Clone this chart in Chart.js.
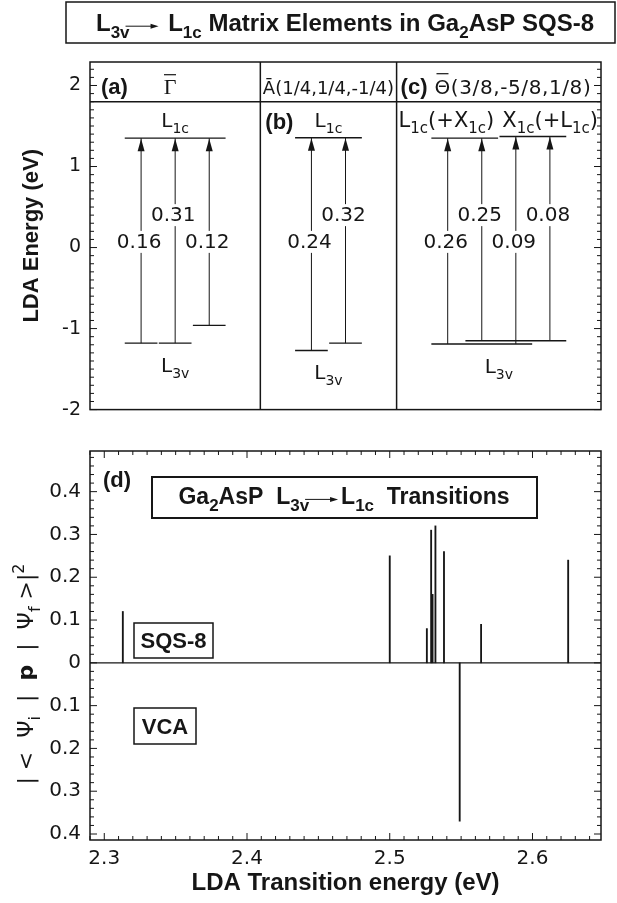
<!DOCTYPE html>
<html>
<head>
<meta charset="utf-8">
<script src="https://cdn.jsdelivr.net/npm/chart.js@4.4.1/dist/chart.umd.min.js"></script>
<style>
  html, body { margin: 0; padding: 0; background: #fff; width: 617px; height: 903px; overflow: hidden; }
  canvas { position: absolute; left: 0; }
  #top { top: 0; }
  #bot { top: 430px; }
</style>
</head>
<body>
<canvas id="top" width="617" height="430"></canvas>
<canvas id="bot" width="617" height="473"></canvas>
<script>
// panels (a) Gamma, (b) A, (c) Theta -- one entry per L3v -> L1c transition
const l1cLevels = [[1.35], [1.355], [1.35, 1.37]];
const l3vLevels = [[-1.18, -1.18, -0.96], [-1.27, -1.18], [-1.19, -1.15]];
const l1cOf = [[0, 0, 0], [0, 0], [0, 0, 1, 1]];
const l3vOf = [[0, 1, 2], [0, 1], [0, 1, 0, 1]];
const matrixElems = [[0.16, 0.31, 0.12], [0.24, 0.32], [0.26, 0.25, 0.09, 0.08]];

// panel (d) transition energies (eV) and |<i|p|f>|^2
const sqsEnergy = [2.313, 2.500, 2.526, 2.529, 2.530, 2.532, 2.538, 2.564, 2.625];
const sqsWeight = [0.12, 0.25, 0.08, 0.31, 0.16, 0.32, 0.26, 0.09, 0.24];
const vcaEnergy = [2.549];
const vcaWeight = [0.37];

const INK = '#161616';
const REG = '"DejaVu Sans"';
const BOLD = '"Liberation Sans"';

// each panel is (transitions + 2) slots wide, arrows sit in the middle slots
const panelStart = [];
let nSlots = 0;
matrixElems.forEach(m => { panelStart.push(nSlots); nSlots += m.length + 2; });
const slotOf = (p, k) => panelStart[p] + 1.5 + k;

function levelSpans(levels, of) {
  const out = [];
  levels.forEach((lv, p) => lv.forEach((E, j) => {
    const ks = of[p].map((v, k) => v === j ? k : -1).filter(k => k >= 0);
    out.push({ p, E, x0: slotOf(p, Math.min(...ks)) - 0.48, x1: slotOf(p, Math.max(...ks)) + 0.48 });
  }));
  return out;
}
const l1cSpans = levelSpans(l1cLevels, l1cOf);
const l3vSpans = levelSpans(l3vLevels, l3vOf);

const levelData = [];
[...l1cSpans, ...l3vSpans].forEach(s => {
  levelData.push({ x: s.x0, y: s.E }, { x: s.x1, y: s.E }, { x: s.x1, y: null });
});
const shaftData = [];
matrixElems.forEach((m, p) => m.forEach((v, k) => {
  const s = slotOf(p, k);
  shaftData.push({ x: s, y: l3vLevels[p][l3vOf[p][k]] }, { x: s, y: l1cLevels[p][l1cOf[p][k]] }, { x: s, y: null });
}));

// ---------- drawing helpers ----------
function line(ctx, x0, y0, x1, y1) {
  ctx.beginPath(); ctx.moveTo(x0, y0); ctx.lineTo(x1, y1); ctx.stroke();
}

// text with subscripts ({s}), superscripts ({u}), bold parts ({b}) and arrows ({arrow})
function rich(ctx, segs, x, y, size, fam, weight, align) {
  const sub = Math.round(size * 0.72);
  const items = segs.map(s => {
    let it;
    if (typeof s === 'string') it = { t: s, f: `${weight} ${size}px ${fam}`, dy: 0 };
    else if (s.s) it = { t: s.s, f: `${weight} ${sub}px ${fam}`, dy: size * 0.3 };
    else if (s.u) it = { t: s.u, f: `${weight} ${sub}px ${fam}`, dy: -size * 0.42 };
    else if (s.b) it = { t: s.b, f: `bold ${size}px ${fam}`, dy: 0 };
    else it = { arrow: s.arrow, w: s.arrow };
    if (it.t) { ctx.font = it.f; it.w = ctx.measureText(it.t).width; }
    return it;
  });
  const total = items.reduce((a, it) => a + it.w, 0);
  let cx = align === 'center' ? x - total / 2 : align === 'right' ? x - total : x;
  ctx.textAlign = 'left';
  ctx.textBaseline = 'alphabetic';
  items.forEach(it => {
    if (it.arrow) {
      const ay = y - size * 0.2, x0 = cx - 4, x1 = cx + it.w - 3;
      ctx.lineWidth = 1;
      line(ctx, x0, ay, x1 - 6, ay);
      ctx.beginPath(); ctx.moveTo(x1, ay); ctx.lineTo(x1 - 8, ay - 2.5); ctx.lineTo(x1 - 8, ay + 2.5); ctx.closePath(); ctx.fill();
    } else {
      ctx.font = it.f;
      ctx.fillText(it.t, cx, y + it.dy);
    }
    cx += it.w;
  });
  return total;
}

function tickMarks(ctx, scale, a, step, every, vertical) {
  const lo = Math.ceil(scale.min / step - 1e-6), hi = Math.floor(scale.max / step + 1e-6);
  ctx.lineWidth = 1;
  for (let i = lo; i <= hi; i++) {
    const L = i % every === 0 ? 7 : 4;
    const p = scale.getPixelForValue(i * step);
    if (vertical) { line(ctx, a.left, p, a.left + L, p); line(ctx, a.right, p, a.right - L, p); }
    else { line(ctx, p, a.bottom, p, a.bottom - L); line(ctx, p, a.top, p, a.top + L); }
  }
}

function textBox(ctx, x0, y0, x1, y1, lw) {
  ctx.lineWidth = lw;
  ctx.strokeRect(x0, y0, x1 - x0, y1 - y0);
}

// ---------- top: level diagrams ----------
const headerBottom = 1.8;   // eV, lower edge of the k-point header row
const labelLow = 0.07, labelHigh = 0.40;

const topDecor = {
  id: 'topDecor',
  afterDatasetsDraw(chart) {
    const { ctx, chartArea: a, scales: { x, y } } = chart;
    ctx.save();
    ctx.fillStyle = INK; ctx.strokeStyle = INK;

    // arrowheads and matrix elements
    matrixElems.forEach((m, p) => m.forEach((v, k) => {
      const px = x.getPixelForValue(slotOf(p, k));
      const tip = y.getPixelForValue(l1cLevels[p][l1cOf[p][k]]);
      ctx.beginPath(); ctx.moveTo(px, tip + 0.5); ctx.lineTo(px - 3.5, tip + 13); ctx.lineTo(px + 3.5, tip + 13); ctx.closePath(); ctx.fill();
      const ly = y.getPixelForValue(k % 2 ? labelHigh : labelLow);
      const t = v.toFixed(2);
      ctx.font = `20px ${REG}`;
      const w = ctx.measureText(t).width;
      ctx.fillStyle = '#fff';
      ctx.fillRect(px - 2 - w / 2 - 2, ly - 11, w + 4, 22);
      ctx.fillStyle = INK;
      ctx.textAlign = 'center'; ctx.textBaseline = 'middle';
      ctx.fillText(t, px - 2, ly + 1);
    }));

    // frame, header row and panel dividers
    ctx.lineWidth = 1.5;
    ctx.strokeRect(a.left, a.top, a.width, a.height);
    const hy = y.getPixelForValue(headerBottom);
    line(ctx, a.left, hy, a.right, hy);
    const div = panelStart.slice(1).map(s => x.getPixelForValue(s));
    div.forEach(d => line(ctx, d, a.top, d, a.bottom));
    tickMarks(ctx, y, a, 0.1, 10, true);

    // header labels
    const hb = hy - 8;
    rich(ctx, ['(a)'], a.left + 11, hb, 22, BOLD, 'bold', 'left');
    ctx.font = `22px "Liberation Serif"`;
    ctx.textAlign = 'center'; ctx.textBaseline = 'alphabetic';
    const gx = a.left + 80;
    ctx.fillText('Γ', gx, hb);
    ctx.lineWidth = 1.2;
    line(ctx, gx - 6, hb - 19, gx + 6, hb - 19);
    rich(ctx, ['Ā(1/4,1/4,-1/4)'], (div[0] + div[1]) / 2, hb, 18, REG, '', 'center');
    const cw = rich(ctx, ['(c)'], div[1] + 4, hb, 22, BOLD, 'bold', 'left');
    const tx = div[1] + 4 + cw + 7;
    ctx.save(); ctx.letterSpacing = '0.6px';
    rich(ctx, ['Θ(3/8,-5/8,1/8)'], tx, hb, 20, REG, '', 'left');
    ctx.restore();
    ctx.fillStyle = INK; ctx.strokeStyle = INK;
    ctx.lineWidth = 1.2;
    line(ctx, tx + 2, hb - 20, tx + 14, hb - 20);

    // level labels
    l1cSpans.forEach(s => {
      if (s.p === 2) return;
      const cx = x.getPixelForValue((s.x0 + s.x1) / 2);
      rich(ctx, ['L', { s: '1c' }], cx, y.getPixelForValue(s.E) - 11, 20, REG, '', 'center');
    });
    const l1cY = y.getPixelForValue(l1cLevels[2][0]) - 11;
    rich(ctx, ['L', { s: '1c' }, '(+X', { s: '1c' }, ')'], div[1] + 2, l1cY, 21, REG, '', 'left');
    rich(ctx, ['X', { s: '1c' }, '(+L', { s: '1c' }, ')'], a.right - 3, l1cY, 21, REG, '', 'right');
    rich(ctx, ['(b)'], div[0] + 5, y.getPixelForValue(l1cLevels[1][0]) - 9, 22, BOLD, 'bold', 'left');
    l1cLevels.forEach((_, p) => {
      const sp = l3vSpans.filter(s => s.p === p);
      const x0 = Math.min(...sp.map(s => s.x0)), x1 = Math.max(...sp.map(s => s.x1));
      const low = Math.min(...sp.map(s => s.E));
      rich(ctx, ['L', { s: '3v' }], x.getPixelForValue((x0 + x1) / 2), y.getPixelForValue(low) + 29, 20, REG, '', 'center');
    });

    // figure title
    textBox(ctx, 66, 2, 615, 43, 1.5);
    rich(ctx, ['L', { s: '3v' }, { arrow: 32 }, ' L', { s: '1c' }, ' Matrix Elements in Ga', { s: '2' }, 'AsP SQS-8'],
      345, 31, 24, BOLD, 'bold', 'center');
    ctx.restore();
  }
};

new Chart(document.getElementById('top'), {
  type: 'scatter',
  data: {
    datasets: [
      { data: levelData, showLine: true, borderColor: INK, borderWidth: 1.4, pointRadius: 0, spanGaps: false },
      { data: shaftData, showLine: true, borderColor: INK, borderWidth: 1, pointRadius: 0, spanGaps: false }
    ]
  },
  options: {
    responsive: false,
    animation: false,
    layout: { padding: { top: 62, right: 16, bottom: 18, left: 0 } },
    plugins: { legend: { display: false }, tooltip: { enabled: false } },
    scales: {
      x: { type: 'linear', min: 0, max: nSlots, display: false },
      y: {
        min: -2, max: 2.29,
        afterFit: s => { s.width = 90; },
        grid: { display: false, drawTicks: false },
        border: { display: false },
        ticks: { stepSize: 1, includeBounds: false, padding: 9, color: INK, font: { family: 'DejaVu Sans', size: 19 } },
        title: {
          display: true, text: 'LDA Energy (eV)', color: INK,
          font: { family: 'Liberation Sans', size: 22, weight: 'bold' }, padding: { top: 19, bottom: 0 }
        }
      }
    }
  },
  plugins: [topDecor]
});

// ---------- bottom: transition spectrum ----------
const botDecor = {
  id: 'botDecor',
  afterDatasetsDraw(chart) {
    const { ctx, chartArea: a, scales: { x, y } } = chart;
    ctx.save();
    ctx.fillStyle = INK; ctx.strokeStyle = INK;
    ctx.lineWidth = 1.5;
    ctx.strokeRect(a.left, a.top, a.width, a.height);
    ctx.lineWidth = 1.2;
    const y0 = y.getPixelForValue(0);
    line(ctx, a.left, y0, a.right, y0);
    tickMarks(ctx, x, a, 0.01, 10, false);
    tickMarks(ctx, y, a, 0.02, 5, true);

    rich(ctx, ['(d)'], a.left + 13, a.top + 36, 22, BOLD, 'bold', 'left');
    textBox(ctx, 152, a.top + 26, 537, a.top + 67, 2);
    rich(ctx, ['Ga', { s: '2' }, 'AsP  L', { s: '3v' }, { arrow: 32 }, 'L', { s: '1c' }, '  Transitions'],
      344, a.top + 53, 23, BOLD, 'bold', 'center');
    textBox(ctx, 134, a.top + 172, 213, a.top + 207, 1.5);
    rich(ctx, ['SQS-8'], 173.5, a.top + 197, 22, BOLD, 'bold', 'center');
    textBox(ctx, 134, a.top + 257, 196, a.top + 293, 1.5);
    rich(ctx, ['VCA'], 165, a.top + 283, 22, BOLD, 'bold', 'center');

    // y label |<psi_i|p|psi_f>|^2
    ctx.translate(33, 244);
    ctx.rotate(-Math.PI / 2);
    rich(ctx, ['| <  Ψ', { s: 'i' }, '  |  ', { b: 'p' }, '  |  Ψ', { s: 'f' }, ' >|', { u: '2' }], 0, 0, 22, REG, '', 'center');
    ctx.restore();
  }
};

new Chart(document.getElementById('bot'), {
  type: 'bar',
  data: {
    datasets: [
      { data: sqsEnergy.map((e, i) => ({ x: e, y: sqsWeight[i] })), backgroundColor: INK, barThickness: 1.2, grouped: false },
      { data: vcaEnergy.map((e, i) => ({ x: e, y: -vcaWeight[i] })), backgroundColor: INK, barThickness: 1.2, grouped: false }
    ]
  },
  options: {
    responsive: false,
    animation: false,
    layout: { padding: { top: 10, right: 16, bottom: 0, left: 0 } },
    plugins: { legend: { display: false }, tooltip: { enabled: false } },
    scales: {
      x: {
        type: 'linear', min: 2.29, max: 2.648, offset: false,
        afterFit: s => { s.height = 63; },
        grid: { display: false, drawTicks: false },
        border: { display: false },
        ticks: {
          stepSize: 0.1, includeBounds: false, padding: 7, color: INK, maxRotation: 0,
          font: { family: 'DejaVu Sans', size: 20 }, callback: v => v.toFixed(1)
        },
        title: {
          display: true, text: 'LDA Transition energy (eV)', color: INK,
          font: { family: 'Liberation Sans', size: 24, weight: 'bold' }, padding: { top: 0, bottom: 5 }
        }
      },
      y: {
        min: -0.414, max: 0.495,
        afterFit: s => { s.width = 90; },
        grid: { display: false, drawTicks: false },
        border: { display: false },
        ticks: {
          stepSize: 0.1, includeBounds: false, padding: 9, color: INK,
          font: { family: 'DejaVu Sans', size: 20 },
          callback: v => Math.abs(v) < 1e-9 ? '0' : Math.abs(v).toFixed(1)
        }
      }
    }
  },
  plugins: [botDecor]
});
</script>
</body>
</html>
